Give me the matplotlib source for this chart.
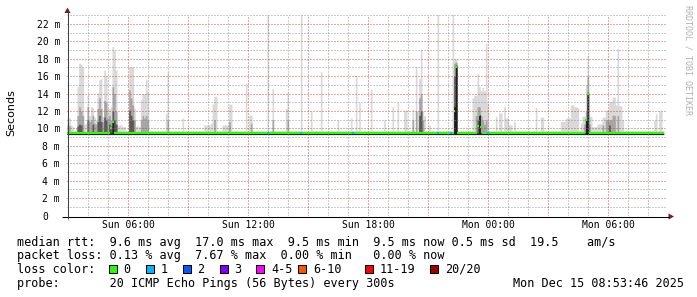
import matplotlib
matplotlib.use('Agg')
import matplotlib.pyplot as plt
import matplotlib.transforms as mtransforms
from matplotlib.collections import LineCollection
from matplotlib.patches import Rectangle, Polygon
import numpy as np

MONO = 'DejaVu Sans Mono'

# time axis: 5 minute steps, hours counted from Sun 00:00
t_start = 2.935
step_h = 5 / 60.0
n_steps = 358

x_tick_hours = [6, 12, 18, 24, 30]
x_tick_labels = ['Sun 06:00', 'Sun 12:00', 'Sun 18:00', 'Mon 00:00', 'Mon 06:00']
y_tick_ms = list(range(0, 23, 2))

# median rtt (ms): flat base with a few excursions
median_base = 9.5
median_step = [26, 27, 232, 233, 246, 247, 248, 311, 312]
median_ms = [10.1, 10.7, 12.0, 17.1, 10.3, 11.5, 10.2, 11.0, 13.9]

# lost pings (of 20) per step, zero elsewhere
loss_step = [120, 140, 171, 222, 230, 252]
loss_count = [1, 1, 1, 1, 1, 1]

# smoke: slowest ping per step (light grey)
smoke_floor = 9.3
max_base = 9.75
max_step = [0, 1, 2, 3, 5, 6, 7, 8, 9, 10, 11, 12, 13, 14, 15, 16, 17, 18, 19, 20,
            21, 22, 23, 24, 25, 26, 27, 28, 29, 30, 31, 32, 33, 34, 37, 38, 39, 40,
            41, 42, 43, 44, 45, 46, 47, 48, 59, 60, 69, 82, 83, 84, 85, 86, 87, 88,
            89, 93, 94, 95, 96, 97, 98, 107, 109, 110, 120, 123, 131, 132, 140,
            146, 152, 162, 170, 173, 175, 182, 190, 195, 198,
            202, 203, 207, 209, 210, 211, 212, 213, 214, 217, 222, 231, 232, 233,
            243, 244, 245, 246, 247, 248, 249, 250, 251, 252, 257, 259, 260, 262,
            263, 264, 265, 266, 268, 281, 284, 285, 296, 297, 298, 299, 300, 301,
            302, 303, 304, 305, 306, 308, 309, 310, 311, 312, 313, 314, 315, 316,
            317, 318, 319, 320, 321, 322, 323, 324, 325, 326, 327, 328, 329, 330,
            331, 332, 333, 352, 353, 355, 356]
max_ms = [11.2, 11.2, 10.4, 10.2, 10.1, 14.8, 17.5, 17.4, 17.0, 10.5, 10.6, 13.8, 11.5, 12.5, 12.4, 11.3, 11.0, 14.1, 15.6, 15.7,
          11.4, 16.7, 16.0, 12.3, 12.3, 12.5, 19.4, 19.0, 16.7, 10.4, 10.4, 10.4, 10.2, 10.2, 17.1, 17.1, 17.0, 12.3,
          10.3, 10.3, 10.2, 13.3, 14.0, 14.0, 15.6, 14.2, 11.7, 16.5, 11.2, 10.4, 10.4, 10.4, 10.4, 10.6, 12.8, 13.7,
          13.7, 10.4, 10.4, 10.4, 10.4, 12.8, 12.8, 15.2, 11.5, 11.5, 23.5, 14.6, 12.3, 14.2, 23.5,
          12.0, 16.5, 11.0, 11.2, 16.0, 13.0, 14.5, 11.0, 12.5, 13.0,
          12.1, 12.1, 12.2, 17.1, 12.0, 15.7, 19.1, 12.0, 11.5, 10.4, 23.5, 23.5, 18.0, 18.0,
          13.5, 13.8, 13.8, 16.3, 14.8, 14.3, 14.7, 14.3, 19.8, 12.9, 11.4, 11.8, 11.8, 12.5,
          11.2, 11.2, 10.4, 10.4, 10.8, 12.4, 11.3, 11.3, 10.8, 10.8, 10.8, 11.2, 11.2, 11.2,
          12.7, 12.7, 12.5, 12.5, 12.4, 10.6, 11.4, 11.4, 15.0, 18.4, 11.4, 11.4, 10.2, 10.2,
          10.2, 10.5, 10.5, 10.5, 11.3, 11.3, 12.1, 12.1, 13.1, 13.1, 13.6, 13.6, 12.7, 19.2,
          12.6, 12.6, 11.0, 10.9, 11.7, 12.0, 12.0]

# upper ping band (mid grey)
p90_base = 9.6
p90_step = [0, 1, 6, 7, 8, 9, 12, 13, 14, 15, 16, 17, 18, 19, 20, 21, 22, 23, 24, 25,
            26, 27, 28, 29, 37, 38, 39, 40, 44, 45, 46, 47, 48, 60, 88, 97, 110, 123,
            132, 207, 209, 211, 212, 213, 232, 233, 245, 246, 247, 248, 249, 250, 251,
            310, 311, 312, 313, 321, 323, 324, 325, 326, 327, 328, 330]
p90_ms = [10.5, 10.3, 11.5, 12.5, 12.0, 11.5, 12.5, 10.8, 11.0, 11.5, 10.6, 10.5, 12.3, 13.5, 12.3, 10.8, 13.2, 13.0, 11.2, 11.5,
          11.0, 14.8, 14.0, 12.0, 14.4, 13.5, 12.7, 11.0, 11.0, 11.5, 11.2, 11.5, 11.0, 11.0, 11.0, 10.8, 10.6, 11.0,
          11.0, 11.0, 12.0, 13.5, 14.0, 11.0, 17.5, 17.6, 11.5, 12.5, 12.5, 11.5, 11.0, 10.5, 11.0,
          10.5, 12.0, 16.0, 10.5, 10.4, 11.0, 11.0, 11.0, 11.0, 11.5, 11.5, 11.5]

# middle ping band (dark grey)
p75_base = 9.5
p75_step = [6, 7, 8, 12, 15, 18, 19, 20, 22, 23, 25, 26, 27, 28, 29, 37, 38, 39,
            211, 212, 232, 233, 246, 247, 312, 325]
p75_ms = [10.3, 10.5, 10.4, 11.0, 10.5, 10.8, 11.5, 10.8, 11.3, 11.0, 10.5, 10.3, 12.0, 11.0, 10.5, 12.1, 11.5, 11.0,
          11.5, 12.0, 16.0, 17.3, 11.0, 11.6, 14.2, 10.4]

# innermost pings (near black)
p60_base = 9.45
p60_step = [27, 232, 233, 247, 311, 312]
p60_ms = [10.8, 12.5, 17.1, 11.5, 11.0, 14.0]

loss_labels = ['0', '1', '2', '3', '4-5', '6-10', '11-19', '20/20']
loss_upper = [0, 1, 2, 3, 5, 10, 19, 20]
loss_colors = ['#26ff00', '#00b8ff', '#0059ff', '#7e00ff', '#ff00ff', '#ff5500', '#ff0000', '#a00000']

stats_rtt = "median rtt:  9.6 ms avg  17.0 ms max  9.5 ms min  9.5 ms now 0.5 ms sd  19.5    am/s"
stats_loss = "packet loss: 0.13 % avg  7.67 % max  0.00 % min   0.00 % now"
probe_text = "probe:       20 ICMP Echo Pings (56 Bytes) every 300s"
stamp_text = "Mon Dec 15 08:53:46 2025"


def layer(steps, vals, base):
    a = np.full(n_steps, base, dtype=float)
    a[np.array(steps)] = vals
    return np.append(a, a[-1])


W, H = 697, 297
fig = plt.figure(figsize=(W / 100, H / 100), dpi=100)
fig.patch.set_facecolor('white')
ax = fig.add_axes([67 / W, (H - 215.6) / H, 600 / W, 201 / H])
ax.set_xlim(t_start, t_start + 30)
ax.set_ylim(0, 23.06)
for s in ax.spines.values():
    s.set_visible(False)

t_edges = t_start + np.arange(n_steps + 1) * step_h
floor = np.full(n_steps + 1, smoke_floor)
smoke = [(layer(max_step, max_ms, max_base), '#d9d9d9'),
         (layer(p90_step, p90_ms, p90_base), '#a6a6a6'),
         (layer(p75_step, p75_ms, p75_base), '#5a5a5a'),
         (layer(p60_step, p60_ms, p60_base), '#1e1e1e')]
for top, col in smoke:
    ax.fill_between(t_edges, floor, top, step='post', color=col, lw=0, zorder=1,
                    antialiased=False)

# grid: every 1 m / every hour grey, every 2 m / every 3 h red (translucent, over the smoke)
grey, red = '#8c8c8c', '#d04040'
for v in range(1, 24):
    ax.axhline(v, color=red if v % 2 == 0 else grey, alpha=0.45, lw=1, ls=(0, (1, 1)),
               zorder=2, antialiased=False)
for h in range(3, 33):
    ax.axvline(h, color=red if (h % 3 == 0 and h >= 6) else grey, alpha=0.45, lw=1,
               ls=(0, (1, 1)), zorder=2, antialiased=False)

# median line coloured by loss
median = np.full(n_steps, median_base)
median[median_step] = median_ms
loss = np.zeros(n_steps, dtype=int)
loss[loss_step] = loss_count
segs, cols = [], []
for i in range(n_steps):
    segs.append([(t_edges[i], median[i]), (t_edges[i + 1], median[i])])
    k = next(j for j, u in enumerate(loss_upper) if loss[i] <= u)
    cols.append(loss_colors[k])
ax.add_collection(LineCollection(segs, colors=cols, linewidths=1.5, capstyle='butt', zorder=4))

ax.set_xticks(x_tick_hours)
ax.set_xticklabels(x_tick_labels, family=MONO, fontsize=7)
ax.set_yticks(y_tick_ms)
ax.set_yticklabels(['0'] + ['%d m' % v for v in y_tick_ms[1:]], family=MONO, fontsize=7)
ax.tick_params(length=0)
ax.tick_params(axis='y', pad=5)
ax.tick_params(axis='x', pad=3)
zero = ax.get_yticklabels()[0]
zero.set_transform(zero.get_transform() + mtransforms.ScaledTranslation(-0.117, 0, fig.dpi_scale_trans))

# overlay in pixel coordinates for axis arrows and legend
ov = fig.add_axes([0, 0, 1, 1], facecolor='none')
ov.set_xlim(0, W)
ov.set_ylim(H, 0)
ov.axis('off')
ov.plot([62, 669], [216.5, 216.5], color='black', lw=0.75, solid_capstyle='butt')
ov.plot([67.5, 67.5], [219, 12], color='#404040', lw=0.75, solid_capstyle='butt')
ov.add_patch(Polygon([(67.5, 7.5), (64.5, 13), (70.5, 13)], closed=True, color='#7d1a1a', lw=0))
ov.add_patch(Polygon([(674, 216.5), (668.5, 213.5), (668.5, 219.5)], closed=True, color='#7d1a1a', lw=0))

ov.text(11, 113, 'Seconds', rotation=90, ha='center', va='center', fontsize=8, family='DejaVu Sans')
ov.text(688, 60, 'RRDTOOL / TOBI OETIKER', rotation=270, ha='center', va='center',
        fontsize=6, family=MONO, color='#b0b0b0')

x0 = 16.7
ov.text(x0, 245.7, stats_rtt, family=MONO, fontsize=8.5, va='baseline')
ov.text(x0, 259.3, stats_loss, family=MONO, fontsize=8.5, va='baseline')
ov.text(x0, 273.0, 'loss color:', family=MONO, fontsize=8.5, va='baseline')
ov.text(x0, 286.7, probe_text, family=MONO, fontsize=8.5, va='baseline')
ov.text(513.3, 286.7, stamp_text, family=MONO, fontsize=8.5, va='baseline')

box_x = [108.5, 145.5, 182.5, 219.5, 256, 298, 365, 430]
for bx, lab, col in zip(box_x, loss_labels, loss_colors):
    ov.add_patch(Rectangle((bx, 264.5), 8, 8, facecolor=col, edgecolor='black', lw=0.75))
    ov.text(bx + 15, 273.0, lab, family=MONO, fontsize=8.5, va='baseline')

fig.savefig('out.png', dpi=100, facecolor='white')
